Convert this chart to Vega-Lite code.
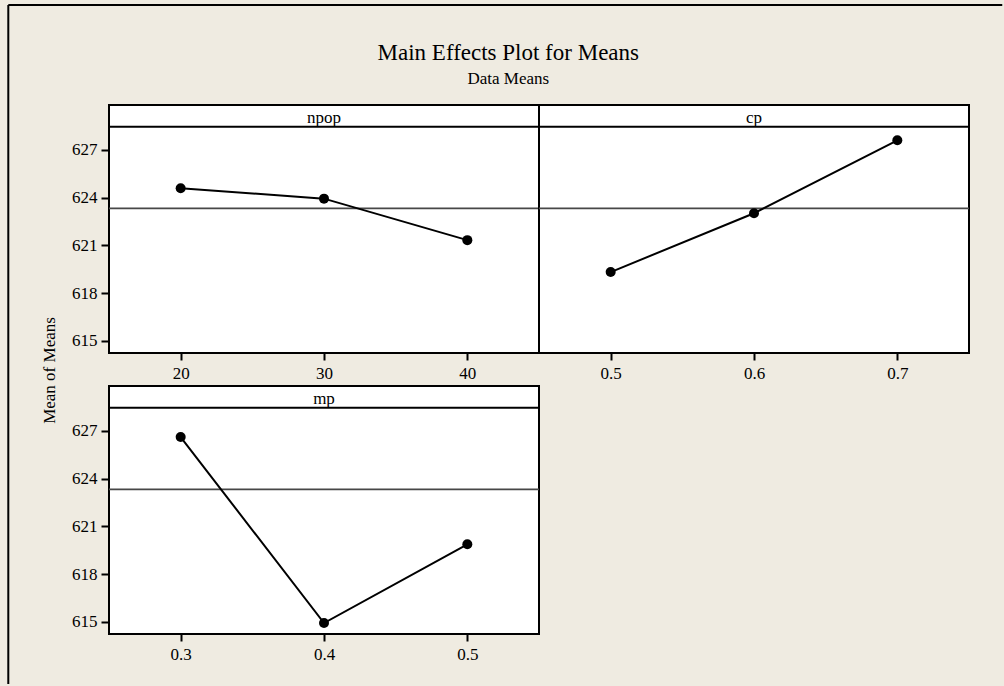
{
  "$schema": "https://vega.github.io/schema/vega-lite/v6.json",
  "background": "#EFEBE1",
  "padding": {"left": 6, "top": 3, "right": 2, "bottom": 2},
  "title": {
    "text": "Main Effects Plot for Means",
    "subtitle": "Data Means",
    "font": "Liberation Serif",
    "fontSize": 23,
    "fontWeight": "normal",
    "color": "black",
    "subtitleFont": "Liberation Serif",
    "subtitleFontSize": 17,
    "subtitleColor": "black",
    "subtitlePadding": 6,
    "anchor": "middle",
    "frame": "bounds",
    "offset": -84,
    "dx": 3
  },
  "datasets": {
    "effects": [
      {"factor": "npop", "level": 20, "mean": 624.59},
      {"factor": "npop", "level": 30, "mean": 623.94},
      {"factor": "npop", "level": 40, "mean": 621.33},
      {"factor": "cp", "level": 0.5, "mean": 619.32},
      {"factor": "cp", "level": 0.6, "mean": 623.02},
      {"factor": "cp", "level": 0.7, "mean": 627.61},
      {"factor": "mp", "level": 0.3, "mean": 626.62},
      {"factor": "mp", "level": 0.4, "mean": 614.92},
      {"factor": "mp", "level": 0.5, "mean": 619.87}
    ],
    "grand": [{"mean": 623.33}]
  },
  "bounds": "flush",
  "spacing": {"row": 33, "column": 0},
  "columns": 2,
  "concat": [
    {
      "width": 430,
      "height": 248,
      "layer": [
        {"data": {"name": "grand"}, "mark": {"type": "rule", "color": "black", "strokeWidth": 2}, "encoding": {"x": {"datum": 7.974}, "x2": {"datum": 77.32}, "y": {"datum": 636.12}}},
        {"data": {"name": "grand"}, "mark": {"type": "rule", "color": "black", "strokeWidth": 2}, "encoding": {"x": {"datum": 7.974}, "y": {"datum": 636.12}, "y2": {"datum": 593.41}}},
        {"data": {"name": "grand"}, "mark": {"type": "rule", "color": "#474747", "strokeWidth": 1.6}, "encoding": {"y": {"field": "mean", "type": "quantitative"}}},
        {"data": {"name": "grand"}, "mark": {"type": "rule", "color": "black", "strokeWidth": 2}, "encoding": {"y": {"datum": 628.46}}},
        {"data": {"name": "grand"}, "mark": {"type": "text", "font": "Liberation Serif", "fontSize": 17, "baseline": "alphabetic", "color": "black"}, "encoding": {"text": {"value": "npop"}, "y": {"datum": 628.68}}},
        {
          "data": {"name": "effects"},
          "transform": [{"filter": "datum.factor == 'npop'"}],
          "mark": {"type": "line", "color": "black", "strokeWidth": 2, "point": {"filled": true, "color": "black", "size": 100, "opacity": 1}},
          "encoding": {
            "x": {"field": "level", "type": "quantitative", "scale": {"domain": [15, 45], "nice": false, "zero": false}, "axis": {"values": [20, 30, 40], "format": "d", "title": null}},
            "y": {"field": "mean", "type": "quantitative", "scale": {"domain": [614.23, 629.83], "nice": false, "zero": false}, "axis": {"values": [615, 618, 621, 624, 627], "format": "d", "title": "Mean of Means", "titleX": -60, "titleY": 265, "titleAngle": 270, "titleAlign": "center", "titleBaseline": "middle"}}
          }
        }
      ]
    },
    {
      "width": 430,
      "height": 248,
      "layer": [
        {"data": {"name": "grand"}, "mark": {"type": "rule", "color": "#474747", "strokeWidth": 1.6}, "encoding": {"y": {"field": "mean", "type": "quantitative", "axis": null}}},
        {"data": {"name": "grand"}, "mark": {"type": "rule", "color": "black", "strokeWidth": 2}, "encoding": {"y": {"datum": 628.46, "axis": null}}},
        {"data": {"name": "grand"}, "mark": {"type": "text", "font": "Liberation Serif", "fontSize": 17, "baseline": "alphabetic", "color": "black"}, "encoding": {"text": {"value": "cp"}, "y": {"datum": 628.68, "axis": null}}},
        {
          "data": {"name": "effects"},
          "transform": [{"filter": "datum.factor == 'cp'"}],
          "mark": {"type": "line", "color": "black", "strokeWidth": 2, "point": {"filled": true, "color": "black", "size": 100, "opacity": 1}},
          "encoding": {
            "x": {"field": "level", "type": "quantitative", "scale": {"domain": [0.45, 0.75], "nice": false, "zero": false}, "axis": {"values": [0.5, 0.6, 0.7], "format": ".1f", "title": null}},
            "y": {"field": "mean", "type": "quantitative", "scale": {"domain": [614.23, 629.83], "nice": false, "zero": false}, "axis": null}
          }
        }
      ]
    },
    {
      "width": 430,
      "height": 248,
      "layer": [
        {"data": {"name": "grand"}, "mark": {"type": "rule", "color": "#474747", "strokeWidth": 1.6}, "encoding": {"y": {"field": "mean", "type": "quantitative"}}},
        {"data": {"name": "grand"}, "mark": {"type": "rule", "color": "black", "strokeWidth": 2}, "encoding": {"y": {"datum": 628.46}}},
        {"data": {"name": "grand"}, "mark": {"type": "text", "font": "Liberation Serif", "fontSize": 17, "baseline": "alphabetic", "color": "black"}, "encoding": {"text": {"value": "mp"}, "y": {"datum": 628.68}}},
        {
          "data": {"name": "effects"},
          "transform": [{"filter": "datum.factor == 'mp'"}],
          "mark": {"type": "line", "color": "black", "strokeWidth": 2, "point": {"filled": true, "color": "black", "size": 100, "opacity": 1}},
          "encoding": {
            "x": {"field": "level", "type": "quantitative", "scale": {"domain": [0.25, 0.55], "nice": false, "zero": false}, "axis": {"values": [0.3, 0.4, 0.5], "format": ".1f", "title": null}},
            "y": {"field": "mean", "type": "quantitative", "scale": {"domain": [614.23, 629.83], "nice": false, "zero": false}, "axis": {"values": [615, 618, 621, 624, 627], "format": "d", "title": null}}
          }
        }
      ]
    }
  ],
  "config": {
    "font": "Liberation Serif",
    "view": {"fill": "white", "stroke": "black", "strokeWidth": 2},
    "axis": {
      "labelFont": "Liberation Serif",
      "labelFontSize": 17,
      "labelColor": "black",
      "tickColor": "black",
      "tickWidth": 2,
      "domain": false,
      "grid": false,
      "titleFont": "Liberation Serif",
      "titleFontSize": 17,
      "titleFontWeight": "normal",
      "titleColor": "black"
    },
    "axisX": {"tickSize": 7, "labelPadding": 5},
    "axisY": {"tickSize": 8, "labelPadding": 4}
  }
}
